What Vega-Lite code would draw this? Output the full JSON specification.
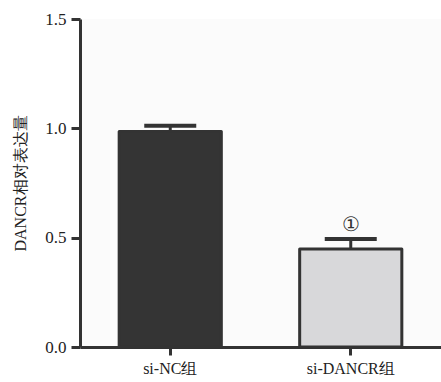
{
  "$schema": "https://vega.github.io/schema/vega-lite/v6.json",
  "width": 361,
  "height": 328,
  "autosize": {"type": "none"},
  "padding": {"left": 80, "top": 19, "right": 0, "bottom": 35},
  "background": "#ffffff",
  "config": {
    "view": {"stroke": null, "fill": "#fbfbfb"},
    "font": "serif",
    "axis": {
      "labelFont": "serif",
      "titleFont": "serif",
      "labelColor": "#222222",
      "titleColor": "#222222",
      "domainColor": "#333333",
      "tickColor": "#333333",
      "domainWidth": 3,
      "tickWidth": 3,
      "grid": false
    }
  },
  "data": {
    "values": [
      {"group": "si-NC组", "mean": 0.985, "upper": 1.012, "mark": ""},
      {"group": "si-DANCR组", "mean": 0.448, "upper": 0.494, "mark": "①"}
    ]
  },
  "encoding": {
    "x": {
      "field": "group",
      "type": "nominal",
      "sort": null,
      "scale": {"paddingInner": 0.434, "paddingOuter": 0.217},
      "axis": {
        "title": null,
        "labelAngle": 0,
        "labelFontSize": 16,
        "labelPadding": 5,
        "tickSize": 8
      }
    }
  },
  "layer": [
    {
      "mark": {"type": "rule", "color": "#333333", "strokeWidth": 3},
      "encoding": {
        "y": {"field": "mean", "type": "quantitative"},
        "y2": {"field": "upper"}
      }
    },
    {
      "mark": {"type": "tick", "color": "#333333", "thickness": 4, "size": 52, "opacity": 1},
      "encoding": {
        "y": {"field": "upper", "type": "quantitative"}
      }
    },
    {
      "mark": {"type": "bar", "stroke": "#333333", "strokeWidth": 3, "strokeJoin": "round"},
      "encoding": {
        "y": {
          "field": "mean",
          "type": "quantitative",
          "scale": {"domain": [0, 1.5], "nice": false},
          "axis": {
            "title": "DANCR相对表达量",
            "titleFontSize": 16,
            "titleFontWeight": "normal",
            "titlePadding": 16,
            "values": [0, 0.5, 1.0, 1.5],
            "format": ".1f",
            "labelFontSize": 17,
            "labelPadding": 5,
            "tickSize": 9
          }
        },
        "fill": {
          "field": "group",
          "type": "nominal",
          "scale": {"domain": ["si-NC组", "si-DANCR组"], "range": ["#343434", "#d8d8da"]},
          "legend": null
        }
      }
    },
    {
      "mark": {"type": "text", "fontSize": 20, "dy": -14, "baseline": "middle", "color": "#333333", "font": "DejaVu Serif"},
      "encoding": {
        "y": {"field": "upper", "type": "quantitative"},
        "text": {"field": "mark"}
      }
    }
  ]
}
